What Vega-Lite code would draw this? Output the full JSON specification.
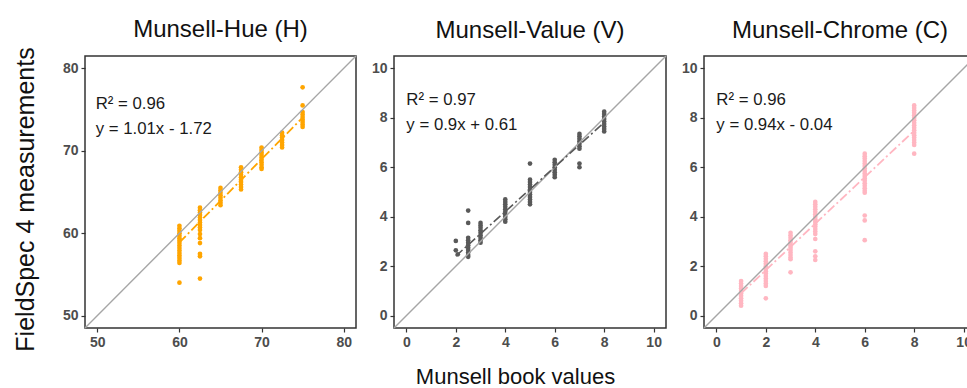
{
  "$schema": "https://vega.github.io/schema/vega-lite/v6.json",
  "padding": {"left": 12, "top": 17, "right": 0, "bottom": 4},
  "datasets": {
    "pts": [
      {"panel": "H", "x": 60, "y": 60.9}, {"panel": "H", "x": 60, "y": 60.6}, {"panel": "H", "x": 60, "y": 60.3}, {"panel": "H", "x": 60, "y": 60.0}, {"panel": "H", "x": 60, "y": 59.7}, {"panel": "H", "x": 60, "y": 59.4}, {"panel": "H", "x": 60, "y": 59.1}, {"panel": "H", "x": 60, "y": 58.8}, {"panel": "H", "x": 60, "y": 58.5}, {"panel": "H", "x": 60, "y": 58.2}, {"panel": "H", "x": 60, "y": 57.9}, {"panel": "H", "x": 60, "y": 57.6}, {"panel": "H", "x": 60, "y": 57.3}, {"panel": "H", "x": 60, "y": 57.0}, {"panel": "H", "x": 60, "y": 56.7}, {"panel": "H", "x": 60, "y": 56.4}, {"panel": "H", "x": 60, "y": 54.0},
      {"panel": "H", "x": 62.5, "y": 63.1}, {"panel": "H", "x": 62.5, "y": 62.8}, {"panel": "H", "x": 62.5, "y": 62.5}, {"panel": "H", "x": 62.5, "y": 62.2}, {"panel": "H", "x": 62.5, "y": 61.9}, {"panel": "H", "x": 62.5, "y": 61.6}, {"panel": "H", "x": 62.5, "y": 61.3}, {"panel": "H", "x": 62.5, "y": 61.0}, {"panel": "H", "x": 62.5, "y": 60.7}, {"panel": "H", "x": 62.5, "y": 60.4}, {"panel": "H", "x": 62.5, "y": 59.9}, {"panel": "H", "x": 62.5, "y": 59.4}, {"panel": "H", "x": 62.5, "y": 58.8}, {"panel": "H", "x": 62.5, "y": 57.5}, {"panel": "H", "x": 62.5, "y": 57.2}, {"panel": "H", "x": 62.5, "y": 54.5},
      {"panel": "H", "x": 65, "y": 65.5}, {"panel": "H", "x": 65, "y": 65.2}, {"panel": "H", "x": 65, "y": 64.9}, {"panel": "H", "x": 65, "y": 64.6}, {"panel": "H", "x": 65, "y": 64.3}, {"panel": "H", "x": 65, "y": 64.0}, {"panel": "H", "x": 65, "y": 63.7}, {"panel": "H", "x": 65, "y": 63.4},
      {"panel": "H", "x": 67.5, "y": 68.0}, {"panel": "H", "x": 67.5, "y": 67.7}, {"panel": "H", "x": 67.5, "y": 67.4}, {"panel": "H", "x": 67.5, "y": 67.1}, {"panel": "H", "x": 67.5, "y": 66.8}, {"panel": "H", "x": 67.5, "y": 66.5}, {"panel": "H", "x": 67.5, "y": 66.2}, {"panel": "H", "x": 67.5, "y": 65.9}, {"panel": "H", "x": 67.5, "y": 65.6}, {"panel": "H", "x": 67.5, "y": 65.3},
      {"panel": "H", "x": 70, "y": 70.4}, {"panel": "H", "x": 70, "y": 70.1}, {"panel": "H", "x": 70, "y": 69.8}, {"panel": "H", "x": 70, "y": 69.5}, {"panel": "H", "x": 70, "y": 69.2}, {"panel": "H", "x": 70, "y": 68.9}, {"panel": "H", "x": 70, "y": 68.6}, {"panel": "H", "x": 70, "y": 68.3}, {"panel": "H", "x": 70, "y": 68.0}, {"panel": "H", "x": 70, "y": 67.8},
      {"panel": "H", "x": 72.5, "y": 72.2}, {"panel": "H", "x": 72.5, "y": 71.9}, {"panel": "H", "x": 72.5, "y": 71.6}, {"panel": "H", "x": 72.5, "y": 71.3}, {"panel": "H", "x": 72.5, "y": 71.0}, {"panel": "H", "x": 72.5, "y": 70.7}, {"panel": "H", "x": 72.5, "y": 70.4},
      {"panel": "H", "x": 75, "y": 77.7}, {"panel": "H", "x": 75, "y": 75.5}, {"panel": "H", "x": 75, "y": 74.7}, {"panel": "H", "x": 75, "y": 74.4}, {"panel": "H", "x": 75, "y": 74.1}, {"panel": "H", "x": 75, "y": 73.8}, {"panel": "H", "x": 75, "y": 73.5}, {"panel": "H", "x": 75, "y": 73.2}, {"panel": "H", "x": 75, "y": 72.9},

      {"panel": "V", "x": 2, "y": 3.02}, {"panel": "V", "x": 2, "y": 2.64}, {"panel": "V", "x": 2.08, "y": 2.48},
      {"panel": "V", "x": 2.5, "y": 4.25}, {"panel": "V", "x": 2.5, "y": 3.75}, {"panel": "V", "x": 2.5, "y": 3.15}, {"panel": "V", "x": 2.5, "y": 3.05}, {"panel": "V", "x": 2.5, "y": 2.95}, {"panel": "V", "x": 2.5, "y": 2.85}, {"panel": "V", "x": 2.5, "y": 2.75}, {"panel": "V", "x": 2.5, "y": 2.65}, {"panel": "V", "x": 2.5, "y": 2.55}, {"panel": "V", "x": 2.5, "y": 2.45}, {"panel": "V", "x": 2.5, "y": 2.38},
      {"panel": "V", "x": 3, "y": 3.75}, {"panel": "V", "x": 3, "y": 3.65}, {"panel": "V", "x": 3, "y": 3.55}, {"panel": "V", "x": 3, "y": 3.45}, {"panel": "V", "x": 3, "y": 3.35}, {"panel": "V", "x": 3, "y": 3.25}, {"panel": "V", "x": 3, "y": 3.15}, {"panel": "V", "x": 3, "y": 3.05}, {"panel": "V", "x": 3, "y": 2.95},
      {"panel": "V", "x": 4, "y": 4.7}, {"panel": "V", "x": 4, "y": 4.6}, {"panel": "V", "x": 4, "y": 4.5}, {"panel": "V", "x": 4, "y": 4.4}, {"panel": "V", "x": 4, "y": 4.3}, {"panel": "V", "x": 4, "y": 4.2}, {"panel": "V", "x": 4, "y": 4.1}, {"panel": "V", "x": 4, "y": 4.0}, {"panel": "V", "x": 4, "y": 3.9}, {"panel": "V", "x": 4, "y": 3.8},
      {"panel": "V", "x": 5, "y": 6.15}, {"panel": "V", "x": 5, "y": 5.5}, {"panel": "V", "x": 5, "y": 5.4}, {"panel": "V", "x": 5, "y": 5.3}, {"panel": "V", "x": 5, "y": 5.2}, {"panel": "V", "x": 5, "y": 5.1}, {"panel": "V", "x": 5, "y": 5.0}, {"panel": "V", "x": 5, "y": 4.9}, {"panel": "V", "x": 5, "y": 4.8}, {"panel": "V", "x": 5, "y": 4.7}, {"panel": "V", "x": 5, "y": 4.6}, {"panel": "V", "x": 5, "y": 4.5},
      {"panel": "V", "x": 6, "y": 6.3}, {"panel": "V", "x": 6, "y": 6.2}, {"panel": "V", "x": 6, "y": 6.1}, {"panel": "V", "x": 6, "y": 6.0}, {"panel": "V", "x": 6, "y": 5.9}, {"panel": "V", "x": 6, "y": 5.8}, {"panel": "V", "x": 6, "y": 5.7}, {"panel": "V", "x": 6, "y": 5.6},
      {"panel": "V", "x": 7, "y": 7.35}, {"panel": "V", "x": 7, "y": 7.25}, {"panel": "V", "x": 7, "y": 7.15}, {"panel": "V", "x": 7, "y": 7.05}, {"panel": "V", "x": 7, "y": 6.95}, {"panel": "V", "x": 7, "y": 6.85}, {"panel": "V", "x": 7, "y": 6.75}, {"panel": "V", "x": 7, "y": 6.15}, {"panel": "V", "x": 7, "y": 6.0},
      {"panel": "V", "x": 8, "y": 8.25}, {"panel": "V", "x": 8, "y": 8.15}, {"panel": "V", "x": 8, "y": 8.05}, {"panel": "V", "x": 8, "y": 7.95}, {"panel": "V", "x": 8, "y": 7.85}, {"panel": "V", "x": 8, "y": 7.75}, {"panel": "V", "x": 8, "y": 7.65}, {"panel": "V", "x": 8, "y": 7.55}, {"panel": "V", "x": 8, "y": 7.45},

      {"panel": "C", "x": 1, "y": 1.4}, {"panel": "C", "x": 1, "y": 1.3}, {"panel": "C", "x": 1, "y": 1.2}, {"panel": "C", "x": 1, "y": 1.1}, {"panel": "C", "x": 1, "y": 1.0}, {"panel": "C", "x": 1, "y": 0.9}, {"panel": "C", "x": 1, "y": 0.8}, {"panel": "C", "x": 1, "y": 0.7}, {"panel": "C", "x": 1, "y": 0.6}, {"panel": "C", "x": 1, "y": 0.5}, {"panel": "C", "x": 1, "y": 0.4},
      {"panel": "C", "x": 2, "y": 2.5}, {"panel": "C", "x": 2, "y": 2.4}, {"panel": "C", "x": 2, "y": 2.3}, {"panel": "C", "x": 2, "y": 2.2}, {"panel": "C", "x": 2, "y": 2.1}, {"panel": "C", "x": 2, "y": 2.0}, {"panel": "C", "x": 2, "y": 1.9}, {"panel": "C", "x": 2, "y": 1.8}, {"panel": "C", "x": 2, "y": 1.7}, {"panel": "C", "x": 2, "y": 1.6}, {"panel": "C", "x": 2, "y": 1.5}, {"panel": "C", "x": 2, "y": 1.4}, {"panel": "C", "x": 2, "y": 1.3}, {"panel": "C", "x": 2, "y": 1.2}, {"panel": "C", "x": 2, "y": 0.7},
      {"panel": "C", "x": 3, "y": 3.35}, {"panel": "C", "x": 3, "y": 3.25}, {"panel": "C", "x": 3, "y": 3.15}, {"panel": "C", "x": 3, "y": 3.05}, {"panel": "C", "x": 3, "y": 2.95}, {"panel": "C", "x": 3, "y": 2.85}, {"panel": "C", "x": 3, "y": 2.75}, {"panel": "C", "x": 3, "y": 2.65}, {"panel": "C", "x": 3, "y": 2.55}, {"panel": "C", "x": 3, "y": 2.45}, {"panel": "C", "x": 3, "y": 2.35}, {"panel": "C", "x": 3, "y": 2.28}, {"panel": "C", "x": 3, "y": 1.75},
      {"panel": "C", "x": 4, "y": 4.6}, {"panel": "C", "x": 4, "y": 4.5}, {"panel": "C", "x": 4, "y": 4.4}, {"panel": "C", "x": 4, "y": 4.3}, {"panel": "C", "x": 4, "y": 4.2}, {"panel": "C", "x": 4, "y": 4.1}, {"panel": "C", "x": 4, "y": 4.0}, {"panel": "C", "x": 4, "y": 3.9}, {"panel": "C", "x": 4, "y": 3.8}, {"panel": "C", "x": 4, "y": 3.7}, {"panel": "C", "x": 4, "y": 3.6}, {"panel": "C", "x": 4, "y": 3.5}, {"panel": "C", "x": 4, "y": 3.4}, {"panel": "C", "x": 4, "y": 3.3}, {"panel": "C", "x": 4, "y": 3.1}, {"panel": "C", "x": 4, "y": 2.6}, {"panel": "C", "x": 4, "y": 2.4}, {"panel": "C", "x": 4, "y": 2.25},
      {"panel": "C", "x": 6, "y": 6.55}, {"panel": "C", "x": 6, "y": 6.45}, {"panel": "C", "x": 6, "y": 6.35}, {"panel": "C", "x": 6, "y": 6.25}, {"panel": "C", "x": 6, "y": 6.15}, {"panel": "C", "x": 6, "y": 6.05}, {"panel": "C", "x": 6, "y": 5.95}, {"panel": "C", "x": 6, "y": 5.85}, {"panel": "C", "x": 6, "y": 5.75}, {"panel": "C", "x": 6, "y": 5.65}, {"panel": "C", "x": 6, "y": 5.55}, {"panel": "C", "x": 6, "y": 5.45}, {"panel": "C", "x": 6, "y": 5.35}, {"panel": "C", "x": 6, "y": 5.25}, {"panel": "C", "x": 6, "y": 5.15}, {"panel": "C", "x": 6, "y": 5.05}, {"panel": "C", "x": 6, "y": 4.97}, {"panel": "C", "x": 6, "y": 4.05}, {"panel": "C", "x": 6, "y": 3.85}, {"panel": "C", "x": 6, "y": 3.05},
      {"panel": "C", "x": 8, "y": 8.5}, {"panel": "C", "x": 8, "y": 8.4}, {"panel": "C", "x": 8, "y": 8.3}, {"panel": "C", "x": 8, "y": 8.2}, {"panel": "C", "x": 8, "y": 8.1}, {"panel": "C", "x": 8, "y": 8.0}, {"panel": "C", "x": 8, "y": 7.9}, {"panel": "C", "x": 8, "y": 7.8}, {"panel": "C", "x": 8, "y": 7.7}, {"panel": "C", "x": 8, "y": 7.6}, {"panel": "C", "x": 8, "y": 7.5}, {"panel": "C", "x": 8, "y": 7.4}, {"panel": "C", "x": 8, "y": 7.3}, {"panel": "C", "x": 8, "y": 7.2}, {"panel": "C", "x": 8, "y": 7.1}, {"panel": "C", "x": 8, "y": 7.0}, {"panel": "C", "x": 8, "y": 6.9}, {"panel": "C", "x": 8, "y": 6.55}
    ],
    "ref": [
      {"panel": "H", "x": 48.5, "y": 48.5}, {"panel": "H", "x": 81.5, "y": 81.5},
      {"panel": "V", "x": -0.5, "y": -0.5}, {"panel": "V", "x": 10.5, "y": 10.5},
      {"panel": "C", "x": -0.5, "y": -0.5}, {"panel": "C", "x": 10.5, "y": 10.5}
    ],
    "fit": [
      {"panel": "H", "x": 60, "y": 58.88}, {"panel": "H", "x": 75, "y": 74.03},
      {"panel": "V", "x": 2, "y": 2.41}, {"panel": "V", "x": 8, "y": 7.81},
      {"panel": "C", "x": 1, "y": 0.9}, {"panel": "C", "x": 8, "y": 7.48}
    ],
    "lab": [
      {"panel": "H", "x": 49.8, "y": 75.7, "text": "R² = 0.96"}, {"panel": "H", "x": 49.8, "y": 72.7, "text": "y = 1.01x - 1.72"},
      {"panel": "V", "x": 0.0, "y": 8.73, "text": "R² = 0.97"}, {"panel": "V", "x": 0.0, "y": 7.72, "text": "y = 0.9x + 0.61"},
      {"panel": "C", "x": 0.0, "y": 8.73, "text": "R² = 0.96"}, {"panel": "C", "x": 0.0, "y": 7.72, "text": "y = 0.94x - 0.04"}
    ]
  },
  "spacing": 38,
  "bounds": "flush",
  "hconcat": [
    {
      "width": 271, "height": 272,
      "title": {"text": "Munsell-Hue (H)", "offset": 5},
      "encoding": {
        "x": {"field": "x", "type": "quantitative", "scale": {"domain": [48.5, 81.5], "nice": false, "zero": false}, "axis": {"values": [50, 60, 70, 80], "title": null}},
        "y": {"field": "y", "type": "quantitative", "scale": {"domain": [48.5, 81.5], "nice": false, "zero": false}, "axis": {"values": [50, 60, 70, 80], "title": "FieldSpec 4 measurements", "titleFontSize": 25, "titlePadding": 24, "titleY": 143}}
      },
      "layer": [
        {"data": {"name": "pts"}, "transform": [{"filter": "datum.panel == 'H'"}], "mark": {"type": "circle", "size": 22, "color": "#FFA500", "opacity": 1}},
        {"data": {"name": "ref"}, "transform": [{"filter": "datum.panel == 'H'"}], "mark": {"type": "line", "color": "#A6A6A6", "strokeWidth": 1.4}},
        {"data": {"name": "fit"}, "transform": [{"filter": "datum.panel == 'H'"}], "mark": {"type": "line", "color": "#FFA500", "strokeWidth": 1.8, "strokeDash": [9, 3, 2, 3]}},
        {"data": {"name": "lab"}, "transform": [{"filter": "datum.panel == 'H'"}], "mark": {"type": "text", "align": "left", "baseline": "middle", "font": "Liberation Sans", "fontSize": 16.8, "color": "#1a1a1a"}, "encoding": {"text": {"field": "text"}}}
      ]
    },
    {
      "width": 272, "height": 272,
      "title": {"text": "Munsell-Value (V)"},
      "encoding": {
        "x": {"field": "x", "type": "quantitative", "scale": {"domain": [-0.5, 10.5], "nice": false, "zero": false}, "axis": {"values": [0, 2, 4, 6, 8, 10], "title": "Munsell book values", "titleFontSize": 22, "titleX": 121, "titlePadding": 17}},
        "y": {"field": "y", "type": "quantitative", "scale": {"domain": [-0.5, 10.5], "nice": false, "zero": false}, "axis": {"values": [0, 2, 4, 6, 8, 10], "title": null}}
      },
      "layer": [
        {"data": {"name": "pts"}, "transform": [{"filter": "datum.panel == 'V'"}], "mark": {"type": "circle", "size": 22, "color": "#595959", "opacity": 1}},
        {"data": {"name": "ref"}, "transform": [{"filter": "datum.panel == 'V'"}], "mark": {"type": "line", "color": "#A6A6A6", "strokeWidth": 1.4}},
        {"data": {"name": "fit"}, "transform": [{"filter": "datum.panel == 'V'"}], "mark": {"type": "line", "color": "#595959", "strokeWidth": 1.6, "strokeDash": [9, 3, 2, 3]}},
        {"data": {"name": "lab"}, "transform": [{"filter": "datum.panel == 'V'"}], "mark": {"type": "text", "align": "left", "baseline": "middle", "font": "Liberation Sans", "fontSize": 16.8, "color": "#1a1a1a"}, "encoding": {"text": {"field": "text"}}}
      ]
    },
    {
      "width": 272, "height": 272,
      "title": {"text": "Munsell-Chrome (C)"},
      "encoding": {
        "x": {"field": "x", "type": "quantitative", "scale": {"domain": [-0.5, 10.5], "nice": false, "zero": false}, "axis": {"values": [0, 2, 4, 6, 8, 10], "title": null}},
        "y": {"field": "y", "type": "quantitative", "scale": {"domain": [-0.5, 10.5], "nice": false, "zero": false}, "axis": {"values": [0, 2, 4, 6, 8, 10], "title": null}}
      },
      "layer": [
        {"data": {"name": "pts"}, "transform": [{"filter": "datum.panel == 'C'"}], "mark": {"type": "circle", "size": 22, "color": "#FFB6C1", "opacity": 1}},
        {"data": {"name": "ref"}, "transform": [{"filter": "datum.panel == 'C'"}], "mark": {"type": "line", "color": "#A6A6A6", "strokeWidth": 1.4}},
        {"data": {"name": "fit"}, "transform": [{"filter": "datum.panel == 'C'"}], "mark": {"type": "line", "color": "#FFB6C1", "strokeWidth": 1.8, "strokeDash": [9, 3, 2, 3]}},
        {"data": {"name": "lab"}, "transform": [{"filter": "datum.panel == 'C'"}], "mark": {"type": "text", "align": "left", "baseline": "middle", "font": "Liberation Sans", "fontSize": 16.8, "color": "#1a1a1a"}, "encoding": {"text": {"field": "text"}}}
      ]
    }
  ],
  "config": {
    "view": {"stroke": "#333333", "strokeWidth": 1.5},
    "axis": {"grid": false, "domain": false, "tickColor": "#333333", "tickSize": 4, "tickWidth": 1.2, "labelFont": "Liberation Sans", "labelFontSize": 14, "labelFontWeight": "bold", "labelColor": "#4d4d4d", "labelPadding": 3, "titleFont": "Liberation Sans", "titleFontWeight": "normal", "titleColor": "#111111"},
    "title": {"font": "Liberation Sans", "fontSize": 24, "fontWeight": "normal", "color": "#111111", "offset": 10}
  }
}
